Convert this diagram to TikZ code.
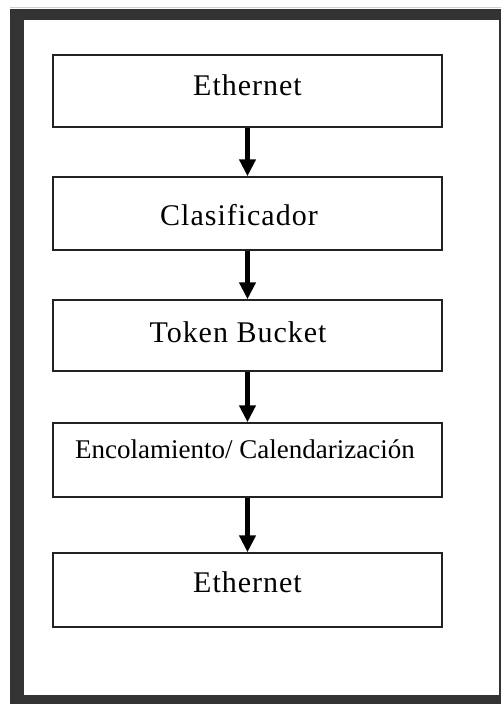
\documentclass[tikz,border=0pt]{standalone}
\usepackage{fontspec}
\usetikzlibrary{arrows.meta}
\newfontfamily\lblfont[LetterSpace=3.3]{Liberation Serif}
\newfontfamily\lblfontplain{Liberation Serif}
\definecolor{framegray}{HTML}{333333}
\definecolor{boxline}{HTML}{222222}
\begin{document}
\begin{tikzpicture}[x=1pt, y=-1pt,
  stagebox/.style={draw=boxline, line width=1.5pt, fill=white, rectangle,
    minimum width=389pt, inner sep=0pt},
  stagetext/.style={anchor=base, inner sep=0pt, font=\lblfont\fontsize{30}{36}\selectfont},
  smalltext/.style={anchor=base, inner sep=0pt, font=\lblfontplain\fontsize{27}{32}\selectfont},
  flow/.style={line width=5pt, draw=black, -{Triangle[width=16pt, length=17pt]}}]
  % page and outer frame
  \fill[white] (0,0) rectangle (501,704);
  \useasboundingbox (0,0) rectangle (501,704);
  \draw[black!18, line width=1pt] (10,7) -- (501,7);
  \fill[framegray] (10,9) rectangle (501,704);
  \fill[white] (24,20) rectangle (499,695);

  % processing stages
  \node[stagebox, minimum height=72pt] (b1) at (247.5,91) {};
  \node[stagebox, minimum height=73pt] (b2) at (247.5,213.5) {};
  \node[stagebox, minimum height=71pt] (b3) at (247.5,335.5) {};
  \node[stagebox, minimum height=74pt] (b4) at (247.5,460) {};
  \node[stagebox, minimum height=74pt] (b5) at (247.5,590) {};

  \node[stagetext] (t1) at (247.5,95) {Ethernet};
  \node[stagetext] (t2) at (239,225) {Clasificador};
  \node[stagetext] (t3) at (238,342) {Token Bucket};
  \node[smalltext] (t4) at (245,458) {Encolamiento/ Calendarización};
  \node[stagetext] (t5) at (247.5,592) {Ethernet};

  % data flow between stages
  \draw[flow] (b1.south) -- (b2.north);
  \draw[flow] (b2.south) -- (b3.north);
  \draw[flow] (b3.south) -- (b4.north);
  \draw[flow] (b4.south) -- (b5.north);
\end{tikzpicture}
\end{document}
